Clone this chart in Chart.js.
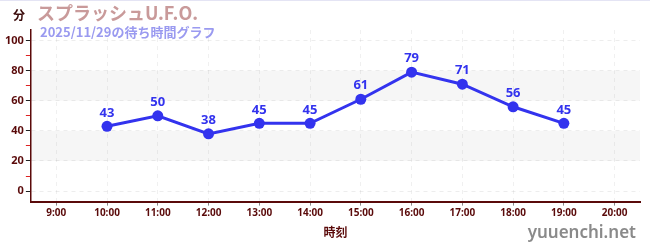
<!DOCTYPE html>
<html>
<head>
<meta charset="utf-8">
<script src="https://cdn.jsdelivr.net/npm/chart.js@4"></script>
<style>
    html, body { margin: 0; padding: 0; background: #fff; }
    body { width: 650px; height: 250px; position: relative; border-top: 1px solid #e4e4f4; box-sizing: border-box; overflow: hidden; }
    #wrap { position: absolute; left: 0; top: 0; width: 650px; height: 250px; }
    .txt { position: absolute; font-family: "Noto Sans CJK JP", "Noto Sans", sans-serif; font-weight: bold; white-space: nowrap; }
    #unit { left: 13px; top: 5px; font-size: 12px; color: #3a0a0a; }
    #title { left: 37px; top: -2px; font-size: 18px; color: #c99a9a; }
    #subtitle { left: 40px; top: 21px; font-size: 13px; color: #9a9af0; }
    #site { right: 14px; top: 219px; font-size: 17px; color: #8a8a8a; font-weight: 600; font-family: "Noto Sans", sans-serif; }
</style>
</head>
<body>
<div id="wrap"><canvas id="chart" width="650" height="250"></canvas></div>
<div class="txt" id="unit">分</div>
<div class="txt" id="title">スプラッシュU.F.O.</div>
<div class="txt" id="subtitle">2025/11/29の待ち時間グラフ</div>
<div class="txt" id="site">yuuenchi.net</div>
<script>
// 時刻ラベルと待ち時間(分)
const hours = ['9:00', '10:00', '11:00', '12:00', '13:00', '14:00', '15:00', '16:00', '17:00', '18:00', '19:00', '20:00'];
const waitMinutes = [null, 43, 50, 38, 45, 45, 61, 79, 71, 56, 45, null];
const yTicks = [0, 10, 20, 30, 40, 50, 60, 70, 80, 90, 100];
const bands = [[20, 40], [60, 80]];

const axisColor = '#5a0a0a';
const lineColor = '#3333ee';

// 背景の帯
const bandPlugin = {
    id: 'bands',
    beforeDatasetsDraw(chart) {
        const { ctx, chartArea, scales } = chart;
        ctx.save();
        ctx.fillStyle = 'rgba(0,0,0,0.035)';
        bands.forEach(([lo, hi]) => {
            const top = scales.y.getPixelForValue(hi);
            const bottom = scales.y.getPixelForValue(lo);
            ctx.fillRect(chartArea.left, top, chartArea.right - chartArea.left, bottom - top);
        });
        ctx.restore();
    }
};

// 点の上に値を表示
const labelPlugin = {
    id: 'pointLabels',
    afterDatasetsDraw(chart) {
        const { ctx } = chart;
        const meta = chart.getDatasetMeta(0);
        ctx.save();
        ctx.font = 'bold 13px "Noto Sans", sans-serif';
        ctx.fillStyle = lineColor;
        ctx.textAlign = 'center';
        ctx.textBaseline = 'bottom';
        meta.data.forEach((pt, i) => {
            const v = waitMinutes[i];
            if (v === null) return;
            ctx.fillText(String(v), pt.x, pt.y - 7);
        });
        ctx.restore();
    }
};

const ctx = document.getElementById('chart').getContext('2d');
new Chart(ctx, {
    type: 'line',
    data: {
        labels: hours,
        datasets: [{
            data: waitMinutes,
            borderColor: lineColor,
            backgroundColor: lineColor,
            borderWidth: 3,
            pointRadius: 5.5,
            pointHoverRadius: 5.5,
            pointBackgroundColor: lineColor,
            pointBorderWidth: 0,
            tension: 0,
            spanGaps: false
        }]
    },
    options: {
        responsive: false,
        animation: false,
        layout: { padding: { left: 3, right: 10, top: 29, bottom: 11 } },
        plugins: {
            legend: { display: false },
            tooltip: { enabled: false }
        },
        scales: {
            x: {
                offset: true,
                grid: {
                    color: 'rgba(0,0,0,0.06)',
                    tickColor: '#888',
                    tickLength: 4,
                    offset: false
                },
                border: { color: axisColor, width: 2, dash: [4, 4] },
                ticks: {
                    color: axisColor,
                    font: { size: 10, weight: 'bold', family: '"Noto Sans", sans-serif' },
                    padding: 2,
                    maxRotation: 0,
                    autoSkip: false
                },
                title: {
                    display: true,
                    text: '時刻',
                    color: axisColor,
                    font: { size: 12, weight: 'bold', family: '"Noto Sans CJK JP", sans-serif' },
                    padding: { top: 4, bottom: 0 }
                }
            },
            y: {
                min: -7,
                max: 107,
                afterBuildTicks(axis) {
                    axis.ticks = yTicks.map(v => ({ value: v }));
                },
                grid: {
                    color: c => (c.tick && c.tick.value % 20 === 0) ? 'rgba(0,0,0,0.07)' : 'rgba(0,0,0,0)',
                    tickColor: c => (c.tick && c.tick.value % 20 === 0) ? '#222' : '#dd2222',
                    tickLength: 5,
                    tickBorderDash: []
                },
                border: { color: axisColor, width: 1.5, dash: [4, 4] },
                ticks: {
                    color: axisColor,
                    font: { size: 11, weight: 'bold', family: '"Noto Sans", sans-serif' },
                    padding: 2,
                    callback: v => (v % 20 === 0 ? String(v) : '')
                }
            }
        }
    },
    plugins: [bandPlugin, labelPlugin]
});
</script>
</body>
</html>
